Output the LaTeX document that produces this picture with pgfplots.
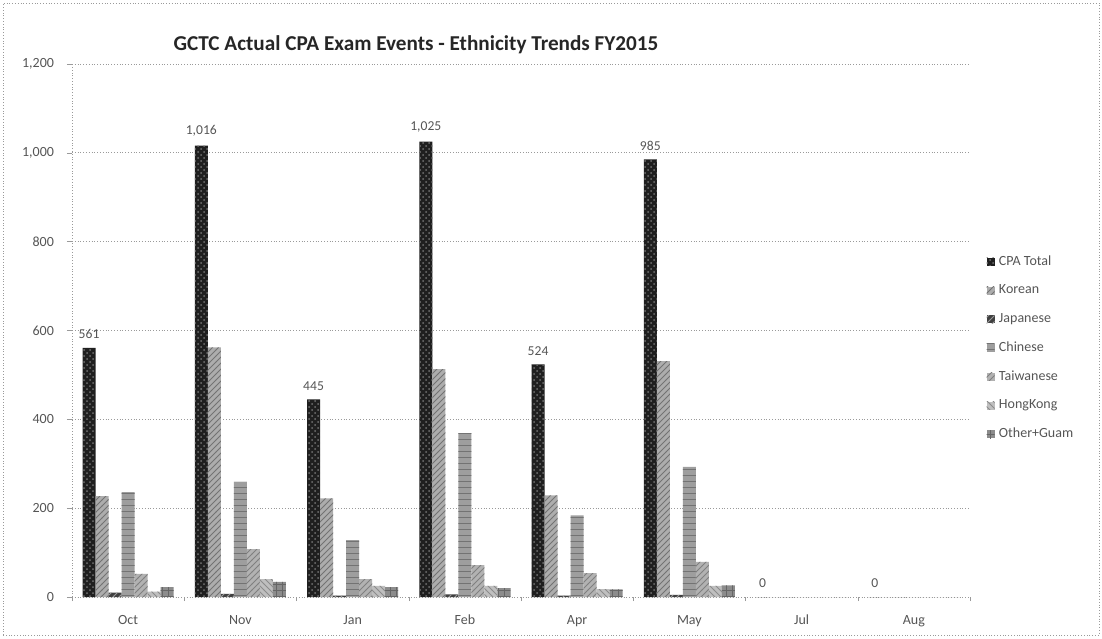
\documentclass[border=0pt]{standalone}
\usepackage{pgfplots}
\pgfplotsset{compat=1.18}
\usetikzlibrary{patterns}
\usepackage{fontspec}
\setmainfont{Carlito}
\definecolor{txt}{HTML}{555555}
\definecolor{gridc}{HTML}{9A9A9A}
\begin{document}
\begin{tikzpicture}
\useasboundingbox (-36pt,-20.5pt) rectangle (515pt,298.5pt);
\draw[gridc, densely dotted, line width=0.4pt] (-34.5pt,-19pt) rectangle (513.5pt,297pt);
\begin{axis}[
  at={(0,0)}, anchor=south west,
  scale only axis,
  width=449pt, height=266.5pt,
  ybar=0pt, bar width=0.116,
  xmin=-0.5, xmax=7.5,
  ymin=0, ymax=1200,
  ytick={0,200,...,1200},
  xtick={0,...,7},
  xticklabels={Oct,Nov,Jan,Feb,Apr,May,Jul,Aug},
  minor xtick={-0.5,0.5,...,7.5},
  major x tick style={draw=none},
  minor x tick style={gridc},
  ymajorgrids,
  major grid style={gridc, densely dotted, line width=0.4pt},
  axis x line*=bottom, axis y line*=left,
  axis line style={gridc, densely dotted, line width=0.4pt, -},
  tick align=outside,
  major tick length=2.5pt, minor tick length=2pt,
  y tick style={gridc},
  /pgf/number format/1000 sep={,},
  /pgf/number format/assume math mode=true,
  tick label style={font=\fontsize{7}{8}\selectfont, text=txt},
  yticklabel style={xshift=-3pt},
  xticklabel style={yshift=-3pt},
  legend style={at={(1.018,0.645)}, anchor=north west, draw=none, fill=none,
    font=\fontsize{7}{8}\selectfont, text=txt, row sep=6.2pt, column sep=1.2pt,
    inner sep=0pt, nodes={inner sep=1pt}},
  legend cell align=left,
  legend image code/.code={\fill[#1] (0pt,-2pt) rectangle (4pt,2pt);},
]
\addplot[fill=black!88, draw=none, postaction={pattern=crosshatch dots, pattern color=black!55},
  nodes near coords, point meta=y,
  every node near coord/.append style={font=\fontsize{6.8}{8}\selectfont, text=txt, yshift=1pt}]
  coordinates {(0,561) (1,1016) (2,445) (3,1025) (4,524) (5,985) (6,0) (7,0)};
\addlegendentry{CPA Total}
\addplot[fill=black!32, draw=none, postaction={pattern=north east lines, pattern color=black!55}]
  coordinates {(0,227) (1,562) (2,222) (3,513) (4,229) (5,531) (6,0) (7,0)};
\addlegendentry{Korean}
\addplot[fill=black!75, draw=none, postaction={pattern=north east lines, pattern color=black!40}]
  coordinates {(0,10) (1,7) (2,3) (3,6) (4,3) (5,5) (6,0) (7,0)};
\addlegendentry{Japanese}
\addplot[fill=black!38, draw=none, postaction={pattern=horizontal lines, pattern color=black!55}]
  coordinates {(0,236) (1,259) (2,128) (3,369) (4,184) (5,293) (6,0) (7,0)};
\addlegendentry{Chinese}
\addplot[fill=black!30, draw=none, postaction={pattern=north east lines, pattern color=black!50}]
  coordinates {(0,52) (1,108) (2,40) (3,72) (4,54) (5,79) (6,0) (7,0)};
\addlegendentry{Taiwanese}
\addplot[fill=black!25, draw=none, postaction={pattern=north west lines, pattern color=black!45}]
  coordinates {(0,12) (1,40) (2,25) (3,25) (4,18) (5,25) (6,0) (7,0)};
\addlegendentry{HongKong}
\addplot[fill=black!45, draw=none, postaction={pattern=grid, pattern color=black!60}]
  coordinates {(0,22) (1,34) (2,22) (3,20) (4,17) (5,26) (6,0) (7,0)};
\addlegendentry{Other+Guam}
\end{axis}
\node[font=\fontsize{10.6}{12}\selectfont\bfseries, text=black!85] at (172pt,276pt) {GCTC Actual CPA Exam Events - Ethnicity Trends FY2015};
\end{tikzpicture}
\end{document}
